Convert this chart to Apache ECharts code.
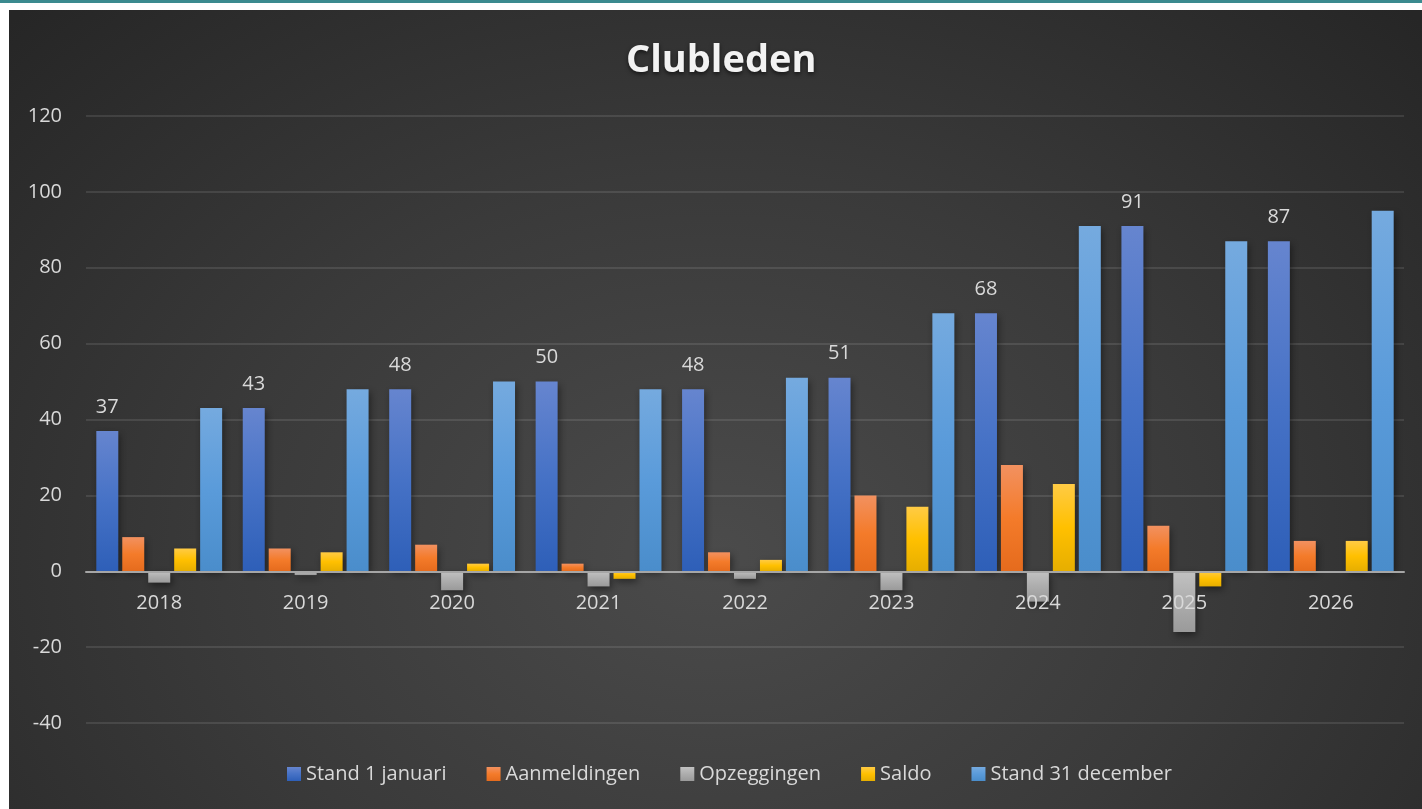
<!doctype html>
<html>
    <head>
        <meta charset="utf-8">
        <title>Clubleden</title>
        <style>
            html, body { margin: 0; padding: 0; background: #ffffff; overflow: hidden; }
            #topline { position: absolute; left: 0; top: 0; width: 1422px; height: 3px; background: #3b8a8f; }
            #main {
                position: absolute; left: 9px; top: 10px; width: 1413px; height: 799px;
                background: radial-gradient(ellipse 70% 95% at 50% 68%, #4b4b4b 0%, #3a3a3a 50%, #262626 100%);
            }
        </style>
    </head>
    <body>
        <div id="topline"></div>
        <div id="main"></div>
        <script src="https://cdn.jsdelivr.net/npm/echarts@6/dist/echarts.min.js"></script>
        <script>
            var years = ['2018', '2019', '2020', '2021', '2022', '2023', '2024', '2025', '2026'];
            var stand1Januari = [37, 43, 48, 50, 48, 51, 68, 91, 87];
            var aanmeldingen = [9, 6, 7, 2, 5, 20, 28, 12, 8];
            var opzeggingen = [-3, -1, -5, -4, -2, -5, -8, -16, 0];
            var saldo = [6, 5, 2, -2, 3, 17, 23, -4, 8];
            var stand31December = [43, 48, 50, 48, 51, 68, 91, 87, 95];

            var font = '"Open Sans", "Liberation Sans", sans-serif';
            var labelColor = '#d9d9d9';

            function grad(top, mid, bottom) {
                return new echarts.graphic.LinearGradient(0, 0, 0, 1, [
                    { offset: 0, color: top },
                    { offset: 0.5, color: mid },
                    { offset: 1, color: bottom }
                ]);
            }

            function barSeries(name, data, color, withLabel) {
                return {
                    name: name,
                    type: 'bar',
                    data: data,
                    barWidth: 22,
                    barGap: '18%',
                    itemStyle: {
                        color: color,
                        shadowBlur: 7,
                        shadowOffsetX: 2,
                        shadowOffsetY: 3,
                        shadowColor: 'rgba(0,0,0,0.45)'
                    },
                    label: {
                        show: !!withLabel,
                        position: 'top',
                        distance: 14,
                        color: labelColor,
                        fontFamily: font,
                        fontSize: 20
                    },
                    emphasis: { disabled: true },
                    animation: false
                };
            }

            var chart = echarts.init(document.getElementById('main'), null, {
                devicePixelRatio: 1
            });

            chart.setOption({
                backgroundColor: 'transparent',
                title: {
                    text: 'Clubleden',
                    left: 612,
                    top: 27,
                    textStyle: {
                        color: '#f2f2f2',
                        fontFamily: font,
                        fontWeight: 'bold',
                        fontSize: 38,
                        textShadowColor: 'rgba(0,0,0,0.6)',
                        textShadowBlur: 4,
                        textShadowOffsetY: 2
                    }
                },
                legend: {
                    left: 273,
                    top: 749,
                    itemWidth: 14,
                    itemHeight: 14,
                    itemGap: 40,
                    icon: 'rect',
                    textStyle: {
                        color: labelColor,
                        fontFamily: font,
                        fontSize: 20
                    }
                },
                grid: {
                    left: 77,
                    right: 18,
                    top: 106,
                    bottom: 86,
                    containLabel: false
                },
                xAxis: {
                    type: 'category',
                    data: years,
                    z: 5,
                    axisTick: { show: false },
                    axisLine: {
                        onZero: true,
                        lineStyle: { color: '#a6a6a6', width: 2 }
                    },
                    axisLabel: {
                        color: labelColor,
                        fontFamily: font,
                        fontSize: 20,
                        margin: -130
                    }
                },
                yAxis: {
                    type: 'value',
                    min: -40,
                    max: 120,
                    interval: 20,
                    axisLine: { show: false },
                    axisTick: { show: false },
                    splitLine: {
                        lineStyle: { color: 'rgba(255,255,255,0.1)', width: 2 }
                    },
                    axisLabel: {
                        color: labelColor,
                        fontFamily: font,
                        fontSize: 20,
                        margin: 24
                    }
                },
                series: [
                    barSeries('Stand 1 januari', stand1Januari, grad('#6685cf', '#4672c6', '#2e5fb8'), true),
                    barSeries('Aanmeldingen', aanmeldingen, grad('#f29160', '#f47b2a', '#e56b1d')),
                    barSeries('Opzeggingen', opzeggingen, grad('#c2c2c2', '#adadad', '#9a9a9a')),
                    barSeries('Saldo', saldo, grad('#ffcb45', '#ffc000', '#e6ae00')),
                    barSeries('Stand 31 december', stand31December, grad('#75aadf', '#5a9bda', '#4a8dcb'))
                ]
            });

            window.onresize = chart.resize;
        </script>
    </body>
</html>
